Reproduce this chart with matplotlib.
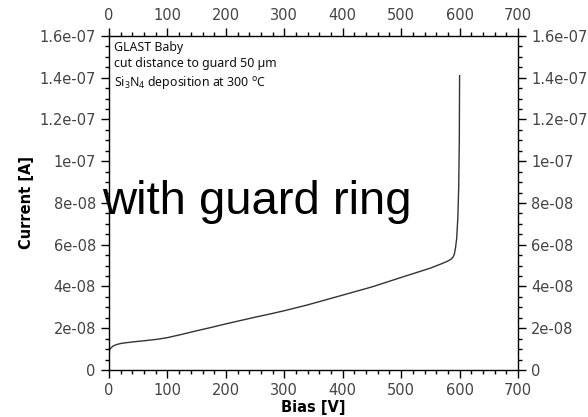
import matplotlib
matplotlib.use("Agg")
import matplotlib.pyplot as plt
from matplotlib.ticker import MultipleLocator, FixedLocator

bias = [0, 1, 3, 7, 13, 20, 30, 42, 60, 82, 100, 125, 150, 175, 200, 225, 250, 275, 300, 340, 390, 450, 504, 550, 570, 580, 586, 589, 591, 593, 595, 597, 598.5, 599.5, 600]
current_e8 = [0.88, 0.95, 1.05, 1.15, 1.22, 1.27, 1.31, 1.35, 1.40, 1.47, 1.55, 1.71, 1.88, 2.04, 2.21, 2.37, 2.53, 2.68, 2.84, 3.12, 3.51, 3.98, 4.47, 4.88, 5.10, 5.22, 5.32, 5.42, 5.55, 5.85, 6.30, 7.30, 8.80, 11.0, 14.1]
current = [c * 1e-8 for c in current_e8]

x_ticks = [0, 100, 200, 300, 400, 500, 600, 700]
y_ticks = [0, 2e-8, 4e-8, 6e-8, 8e-8, 1e-7, 1.2e-7, 1.4e-7, 1.6e-7]
y_labels = ["0", "2e-08", "4e-08", "6e-08", "8e-08", "1e-07", "1.2e-07", "1.4e-07", "1.6e-07"]

plt.rcParams['mathtext.fontset'] = 'custom'
plt.rcParams['mathtext.rm'] = 'Noto Sans'
plt.rcParams['mathtext.it'] = 'Noto Sans:italic'

fig = plt.figure(figsize=(5.88, 4.17), dpi=100)
ax = fig.add_axes([0.1854, 0.1127, 0.881 - 0.1854, 0.9137 - 0.1127])
ax.plot(bias, current, color='#333333', lw=1.0)

ax.set_xlim(0, 700)
ax.set_ylim(0, 1.6e-7)
ax.xaxis.set_major_locator(FixedLocator(x_ticks))
ax.xaxis.set_minor_locator(MultipleLocator(20))
ax.yaxis.set_major_locator(FixedLocator(y_ticks))
ax.set_yticklabels(y_labels)
ax.yaxis.set_minor_locator(MultipleLocator(5e-9))

ax.tick_params(which='both', direction='out', top=True, right=True,
               labeltop=True, labelright=True, labelcolor='#444444', labelsize=10.5, width=1.0)
ax.tick_params(which='major', length=6)
ax.tick_params(which='minor', length=3)
for s in ax.spines.values():
    s.set_linewidth(1.0)

ax.set_xlabel('Bias [V]', fontsize=10.5, fontweight='bold', labelpad=1)
ax.set_ylabel('Current [A]', fontsize=10.5, fontweight='bold', labelpad=4)

ax.text(0.013, 0.985, 'GLAST Baby\ncut distance to guard 50 µm\nSi$_3$N$_4$ deposition at 300 $^{\\rm o}$C',
        transform=ax.transAxes, va='top', ha='left', fontsize=8.9, family='Noto Sans',
        linespacing=1.3, color='#111111')

fig.text(102 / 588, 1 - 214 / 417, 'with guard ring', fontsize=34, family='Liberation Sans',
         ha='left', va='baseline', color='black')

fig.savefig('out.png', dpi=100)
